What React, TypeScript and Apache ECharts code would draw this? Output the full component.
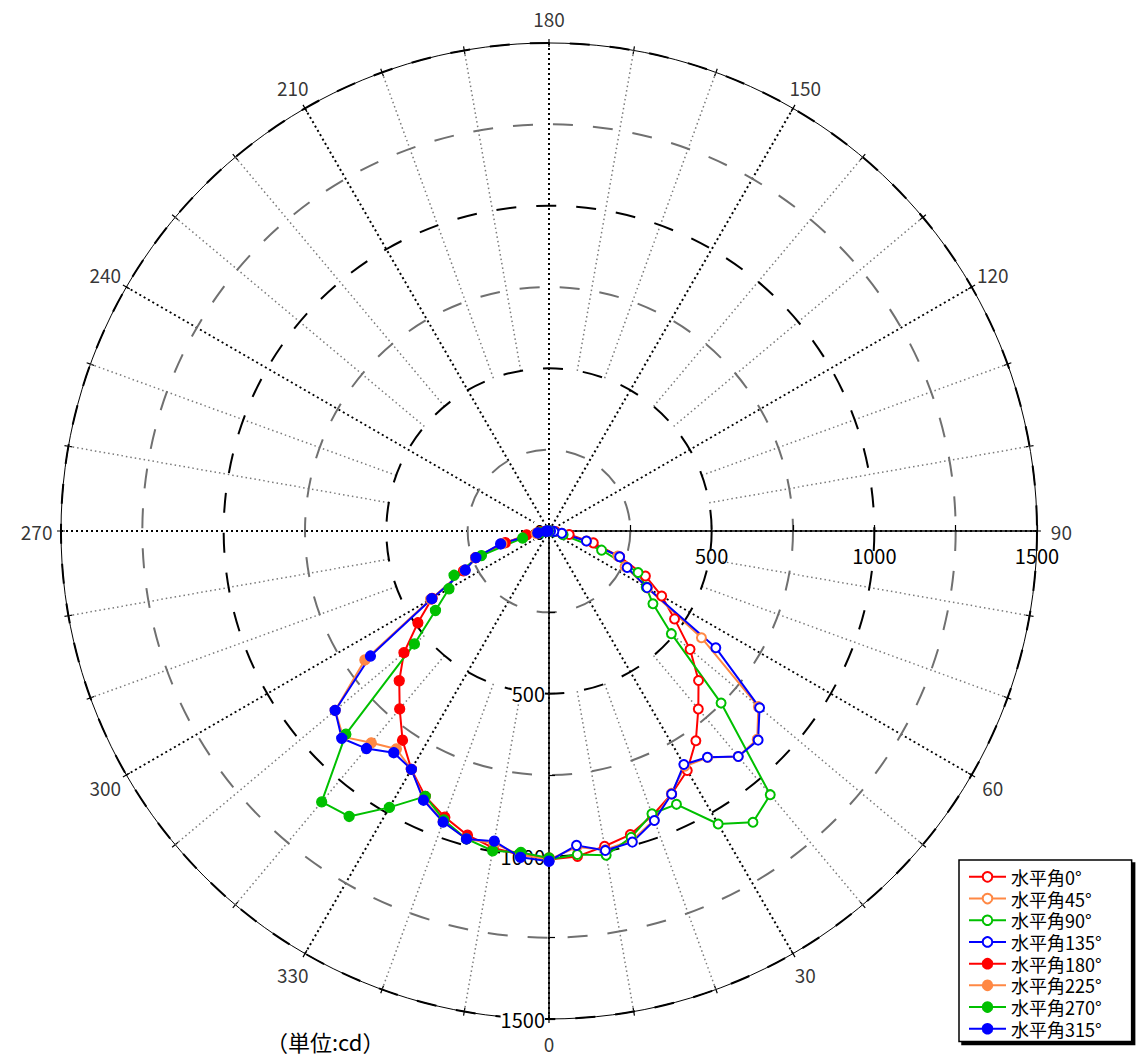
import React, { useEffect, useRef } from 'react';
import * as echarts from 'echarts';

// vertical angles of the measurement (deg from nadir)
const VERTICAL_ANGLES = [0, 5, 10, 15, 20, 25, 30, 35, 40, 45, 50, 55, 60, 65, 70, 75, 80, 85, 90];

// luminous intensity (cd) per horizontal plane
const H0 = [1010, 1004, 984, 966, 930, 892, 850, 787, 714, 650, 566, 471, 400, 327, 231, 141, 63, 20, 5];
const H45 = [1010, 975, 995, 985, 945, 890, 835, 850, 905, 905, 840, 572, 350, 258, 225, 120, 40, 15, 5];
const H90 = [1010, 998, 1012, 975, 925, 927, 1040, 1093, 1058, 748, 491, 390, 345, 302, 172, 45, 15, 5, 0];
const H135 = [1015, 970, 997, 990, 947, 892, 829, 849, 905, 909, 845, 626, 348, 265, 231, 119, 40, 15, 5];
const H180 = [1005, 999, 989, 968, 936, 900, 846, 785, 714, 651, 582, 492, 415, 290, 240, 139, 70, 25, 5];
const H225 = [1010, 1000, 975, 980, 950, 910, 846, 818, 850, 895, 858, 691, 420, 285, 240, 150, 40, 12, 3];
const H270 = [1005, 992, 998, 980, 945, 900, 981, 1071, 1087, 883, 540, 426, 355, 322, 221, 84, 25, 8, 2];
const H315 = [1015, 1007, 968, 980, 952, 913, 846, 832, 873, 901, 858, 670, 416, 284, 239, 154, 35, 10, 3];

const SERIES_NAMES = ['水平角0°', '水平角45°', '水平角90°', '水平角135°', '水平角180°', '水平角225°', '水平角270°', '水平角315°'];
const SERIES_VALUES = [H0, H45, H90, H135, H180, H225, H270, H315];
const SERIES_COLORS = ['#ff0000', '#ff8844', '#00c000', '#0000ff', '#ff0000', '#ff8844', '#00c000', '#0000ff'];

// angle axis labels and the 10° guide lines
const ANGLE_LABELS = [0, 30, 60, 90, 120, 150, 180, 210, 240, 270, 300, 330];
const MINOR_ANGLES = [10, 20, 40, 50, 70, 80, 100, 110, 130, 140, 160, 170, 190, 200, 220, 230, 250, 260, 280, 290, 310, 320, 340, 350];

const FONT = '"Noto Sans CJK JP", "Noto Sans", sans-serif';
const R_MAX = 1500;
const LABEL_R = 1575;

const App: React.FC = () => {
  const chartRef = useRef<HTMLDivElement>(null);

  useEffect(() => {
    if (!chartRef.current) return;
    const chart = echarts.init(chartRef.current, undefined, { renderer: 'svg' });

    const dataSeries = SERIES_VALUES.map((vals, i) => {
      const leftSide = i >= 4; // 180..315 planes are drawn on the left half
      return {
        name: SERIES_NAMES[i],
        type: 'line',
        coordinateSystem: 'polar',
        polarIndex: 0,
        data: vals.map((v, k) => [v, leftSide ? 360 - VERTICAL_ANGLES[k] : VERTICAL_ANGLES[k]]),
        symbol: leftSide ? 'circle' : 'emptyCircle',
        symbolSize: leftSide ? 10 : 9,
        color: SERIES_COLORS[i],
        lineStyle: { color: SERIES_COLORS[i], width: 2 },
        itemStyle: { color: SERIES_COLORS[i], borderColor: SERIES_COLORS[i], borderWidth: 1.3 },
        z: 5,
        silent: true,
      };
    });

    const guideSeries = MINOR_ANGLES.map((a) => ({
      type: 'line',
      coordinateSystem: 'polar',
      polarIndex: 0,
      data: [[500, a], [R_MAX, a]],
      symbol: 'none',
      silent: true,
      lineStyle: { color: '#7a7a7a', width: 1.5, type: [1.5, 3] },
      z: 1,
    }));

    const labelSeries = {
      type: 'scatter',
      coordinateSystem: 'polar',
      polarIndex: 0,
      clip: false,
      silent: true,
      symbolSize: 1,
      itemStyle: { color: 'rgba(0,0,0,0)' },
      data: ANGLE_LABELS.map((a) => [LABEL_R, a]),
      label: {
        show: true,
        position: 'inside',
        formatter: (p: any) => String(p.value[1]),
        color: '#000',
        fontSize: 19,
        lineHeight: 16,
        fontFamily: FONT,
      },
      z: 3,
    };

    const option: any = {
      animation: false,
      backgroundColor: '#fff',
      title: {
        text: '（単位:cd）',
        left: 266,
        top: 1029,
        padding: 0,
        textStyle: { fontSize: 22, lineHeight: 24, fontWeight: 'normal', color: '#000', fontFamily: FONT },
      },
      legend: {
        data: SERIES_NAMES,
        orient: 'vertical',
        left: 959,
        top: 860,
        padding: [6, 30, 2, 9],
        itemWidth: 37,
        itemHeight: 12,
        itemGap: 0,
        borderColor: '#000',
        borderWidth: 1.5,
        backgroundColor: '#fff',
        shadowColor: 'rgba(0,0,0,1)',
        shadowOffsetX: 3,
        shadowOffsetY: 3,
        shadowBlur: 1,
        textStyle: { fontSize: 18, lineHeight: 21.7, color: '#000', fontFamily: FONT },
      },
      polar: [
        { center: [549, 531], radius: 488 },
        { center: [549, 531], radius: 488 },
      ],
      angleAxis: [
        {
          polarIndex: 0,
          type: 'value',
          min: 0,
          max: 360,
          interval: 30,
          startAngle: 270,
          clockwise: false,
          axisLine: { show: true, lineStyle: { color: '#000', width: 1 } },
          axisTick: { show: true, length: 4, lineStyle: { color: '#000', width: 1.2 } },
          minorTick: { show: true, splitNumber: 3, length: 4, lineStyle: { color: '#000', width: 1.2 } },
          axisLabel: { show: false },
          splitLine: { show: true, lineStyle: { color: '#000', width: 2, type: [2, 3] } },
        },
        {
          polarIndex: 1,
          type: 'value',
          min: 0,
          max: 360,
          interval: 30,
          startAngle: 0,
          clockwise: false,
          axisLine: { show: false },
          axisTick: { show: true, inside: true, length: 4, lineStyle: { color: '#000', width: 1.2 } },
          minorTick: { show: true, splitNumber: 3, length: 4, lineStyle: { color: '#000', width: 1.2 } },
          axisLabel: { show: false },
          splitLine: { show: false },
        },
      ],
      radiusAxis: [
        {
          polarIndex: 0,
          type: 'value',
          min: 0,
          max: R_MAX,
          interval: 250,
          axisLine: { show: true, lineStyle: { color: '#000', width: 1.5 } },
          axisTick: { show: true, length: 6, lineStyle: { color: '#000', width: 1.2 } },
          axisLabel: {
            formatter: (v: number) => (v % 500 === 0 ? String(v) : ''),
            margin: -4,
            align: 'right',
            verticalAlign: 'middle',
            color: '#000',
            fontSize: 20,
            lineHeight: 18,
            fontFamily: FONT,
            backgroundColor: '#fff',
          },
          splitLine: { show: true, lineStyle: { color: ['#000', '#707070'], width: 2, type: [20, 20] } },
          z: 2,
        },
        {
          polarIndex: 1,
          type: 'value',
          min: 0,
          max: R_MAX,
          interval: 250,
          axisLine: { show: true, lineStyle: { color: '#000', width: 1.5 } },
          axisTick: { show: true, length: 6, lineStyle: { color: '#000', width: 1.2 } },
          axisLabel: {
            formatter: (v: number) => (v !== 0 && v % 500 === 0 ? String(v) : ''),
            margin: -14,
            align: 'center',
            verticalAlign: 'top',
            color: '#000',
            fontSize: 20,
            lineHeight: 20,
            fontFamily: FONT,
          },
          splitLine: { show: false },
          z: 2,
        },
      ],
      series: [...guideSeries, labelSeries, ...dataSeries],
    };

    chart.setOption(option);

    return () => {
      chart.dispose();
    };
  }, []);

  return (
    <div
      ref={chartRef}
      style={{ position: 'absolute', left: 0, top: 0, width: 1141, height: 1058, background: '#fff' }}
    />
  );
};

export default App;
